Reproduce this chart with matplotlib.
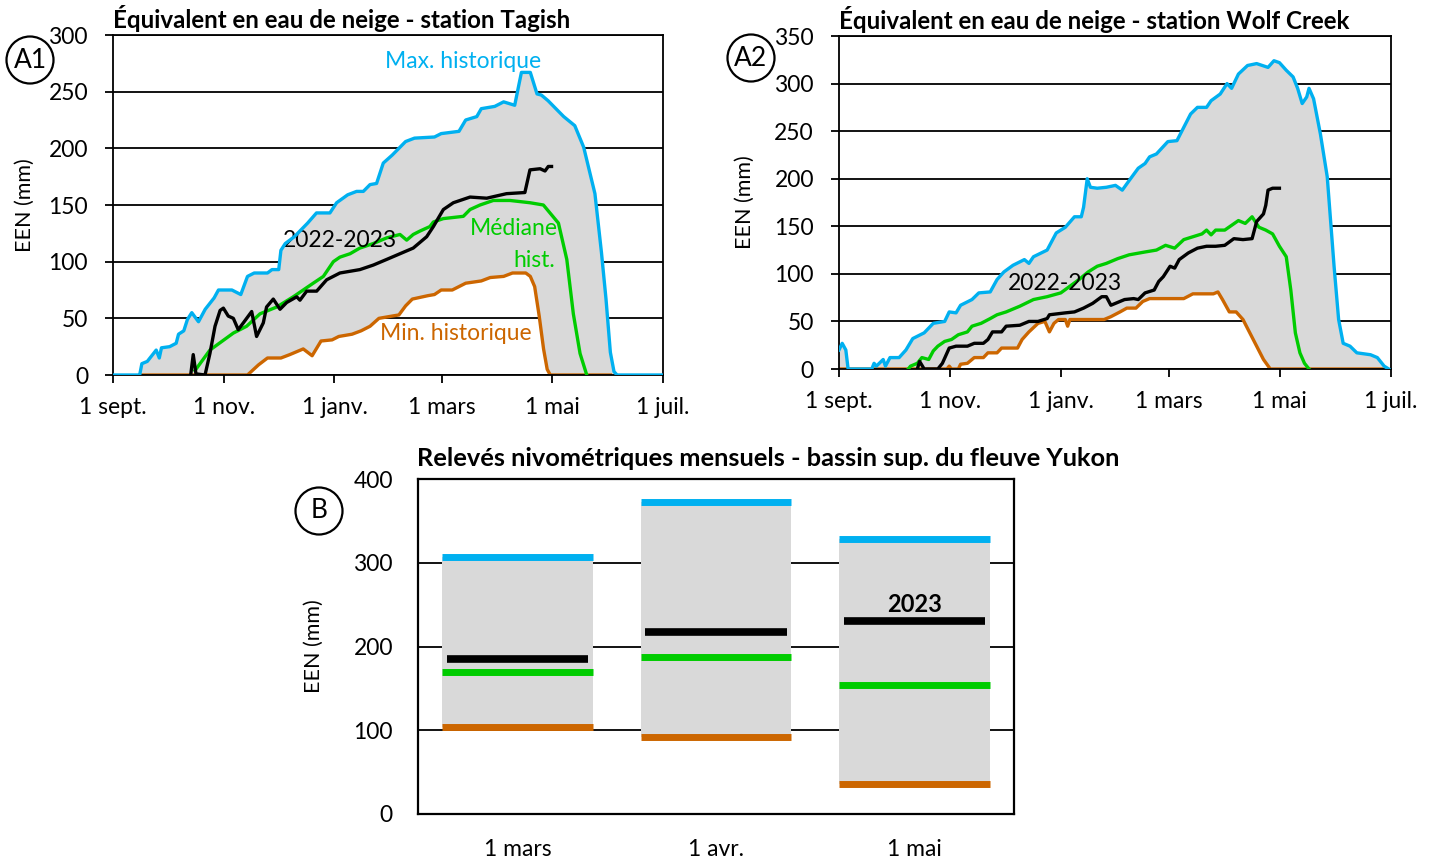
import matplotlib.pyplot as plt
import numpy as np
from matplotlib.patches import Ellipse

plt.rcParams['font.family'] = ['Lato', 'DejaVu Sans']

# days since 1 sept. ; snow water equivalent (mm)
month_ticks = [0, 61, 122, 181, 242, 303]
month_labels = ['1 sept.', '1 nov.', '1 janv.', '1 mars', '1 mai', '1 juil.']

tagish_max = [(0, 0), (14.7, 0), (15.9, 10), (18.9, 12), (23.8, 22), (25.5, 15), (26.7, 24), (31.2, 25),
              (34.8, 28), (36.1, 36), (39.0, 39), (41.0, 49), (43.4, 55), (47.1, 47), (50.8, 58), (55.7, 68),
              (58.1, 75), (65.5, 75), (70.4, 71), (74.1, 87), (77.8, 90), (85.1, 90), (87.6, 93), (91.3, 93),
              (92.5, 110), (94.9, 116), (99.9, 122), (107.2, 134), (112.1, 143), (119.5, 143), (123.2, 152),
              (129.3, 159), (134.2, 162), (137.9, 162), (141.6, 168), (145.2, 169), (148.9, 187), (153.8, 194),
              (161.2, 206), (166.1, 209), (177.1, 210), (180.8, 213), (190.6, 215), (194.3, 225), (200.4, 228),
              (202.9, 235), (210.3, 237), (215.2, 241), (221.3, 238), (225.0, 267), (229.9, 267), (233.6, 248),
              (236.0, 247), (239.7, 242), (244.6, 234), (248.3, 228), (254.4, 220), (259.3, 201), (265.5, 160),
              (269.1, 108), (271.6, 67), (274.0, 20), (276.0, 3), (277.7, 0), (303, 0)]
tagish_min = [(14.7, 0), (74.1, 0), (80.2, 9), (85.1, 15), (92.5, 15), (97.4, 18), (104.8, 23), (109.7, 17),
              (114.6, 30), (120.7, 31), (124.4, 34), (131.7, 36), (136.7, 39), (141.6, 43), (146.5, 50),
              (153.8, 52), (157.5, 53), (161.2, 61), (164.9, 67), (173.5, 70), (177.1, 71), (180.8, 75),
              (186.9, 75), (194.3, 81), (202.9, 83), (207.8, 86), (215.2, 87), (220.1, 90), (227.4, 90),
              (229.9, 87), (232.3, 78), (234.8, 52), (237.2, 23), (239.2, 5), (240.9, 0), (274, 0)]
tagish_med = [(45.2, 4), (53.4, 22), (66.3, 37), (73.6, 43), (81.0, 54), (90.2, 60), (99.3, 69), (110.3, 81),
              (115.9, 87), (121.4, 100), (125.0, 104), (130.6, 107), (136.0, 112), (143.4, 116), (150.8, 121),
              (158.1, 124), (161.8, 119), (165.4, 124), (169.1, 127), (174.6, 131), (176.5, 135), (182.0, 138),
              (193.0, 140), (196.7, 146), (202.2, 150), (209.5, 154), (218.7, 154), (229.7, 152), (237.1, 150),
              (245.4, 134), (250.0, 102), (253.6, 54), (257.3, 19), (261.0, 0)]
tagish_2023 = [(42.8, 0), (44.2, 18), (45.7, 1), (50.7, 0), (53.4, 19), (56.2, 43), (59.0, 57), (60.8, 59),
               (63.5, 52), (66.3, 50), (69.0, 40), (71.8, 46), (76.4, 56), (79.1, 34), (82.8, 46), (84.6, 60),
               (88.3, 67), (92.0, 58), (95.7, 64), (101.2, 69), (103.0, 66), (106.7, 74), (112.2, 74),
               (117.7, 84), (125.0, 90), (136.0, 93), (143.4, 97), (150.8, 102), (158.1, 107), (165.4, 112),
               (172.8, 122), (176.5, 131), (182.0, 146), (187.5, 152), (196.7, 157), (205.9, 156), (216.8, 160),
               (226.9, 161), (229.7, 181), (235.3, 182), (238.0, 180), (239.8, 184), (241.6, 184)]

wolf_max = [(0, 20), (1.75, 27), (3.75, 20), (5, 0), (18, 0), (19.25, 6), (20.5, 3), (24.25, 10), (25.5, 3),
            (28, 12), (33, 12), (36.75, 20), (40.5, 32), (46.75, 38), (51.75, 48), (58, 50), (60.5, 60),
            (64.25, 59), (66.75, 67), (73, 73), (76.75, 80), (83, 81), (86.75, 94), (90.5, 102), (95.5, 109),
            (101.75, 115), (104.25, 111), (106.75, 118), (114.25, 125), (119.25, 143), (124.25, 149),
            (129.25, 160), (133, 160), (134.25, 170), (136.25, 200), (138, 191), (141.75, 190), (146.75, 191),
            (151.75, 193), (155.5, 188), (159.25, 198), (164.25, 211), (168, 216), (170.5, 223), (174.25, 226),
            (180.5, 239), (185.5, 240), (189.25, 254), (193, 268), (196.75, 275), (201.75, 275), (204.25, 282),
            (209.25, 289), (213, 300), (215.5, 295), (219.25, 310), (224.25, 319), (229.25, 321), (235.5, 317),
            (238.75, 324), (241.75, 322), (245.5, 314), (249.25, 307), (251.75, 295), (254.25, 279),
            (256.75, 286), (258, 295), (260.5, 284), (264.25, 247), (268, 202), (271.75, 108), (274.25, 52),
            (276.75, 27), (280.5, 24), (284.25, 17), (291.75, 15), (295.5, 12), (299.25, 3), (301.75, 0)]
wolf_min = [(0, 0), (59.25, 0), (60.5, 3), (61.75, 0), (65.5, 0), (66.75, 5), (70.5, 6), (74.25, 12),
            (79.25, 12), (81.75, 17), (86.75, 17), (89.25, 22), (98, 22), (100.5, 31), (104.25, 39),
            (109.25, 48), (113, 50), (115.5, 39), (118, 48), (120.5, 52), (124.25, 52), (125.5, 45),
            (126.75, 52), (145.5, 52), (149.25, 55), (154.25, 60), (158, 64), (163, 64), (166.75, 71),
            (170.5, 74), (189.25, 74), (194.25, 79), (205.5, 79), (208, 81), (210.5, 73), (214.25, 60),
            (218, 60), (221.75, 52), (225.5, 38), (229.25, 24), (233, 10), (236.75, 0), (298, 0)]
wolf_med = [(38, 0), (39.25, 3), (43, 6), (45.5, 12), (49.25, 10), (51.75, 19), (54.25, 24), (58, 29),
            (61.75, 31), (65.5, 36), (70.5, 39), (73, 45), (78, 48), (83, 53), (86.75, 57), (91.75, 60),
            (99.25, 66), (106.75, 73), (114.25, 76), (121.75, 80), (126.75, 87), (131.75, 94), (136.75, 102),
            (141.75, 108), (146.75, 111), (153, 116), (159.25, 120), (168, 123), (174.25, 125), (179.25, 130),
            (184.25, 127), (189.25, 136), (194.25, 139), (199.25, 142), (201.75, 146), (204.25, 141),
            (206.75, 146), (211.75, 146), (215.5, 151), (219.25, 156), (223, 153), (226.75, 160),
            (230.5, 149), (234.25, 146), (238, 142), (241.75, 129), (245.5, 118), (248, 83), (250.5, 38),
            (253, 17), (255.5, 6), (258, 0)]
wolf_2023 = [(43, 0), (44.25, 8), (45.5, 4), (46.75, 0), (54.25, 0), (56.75, 6), (60.5, 22), (64.25, 24),
             (70.5, 24), (74.25, 27), (79.25, 27), (81.75, 31), (84.25, 39), (89.25, 39), (91.75, 45),
             (99.25, 46), (104.25, 50), (109.25, 50), (114.25, 53), (115.5, 57), (124.25, 59), (129.25, 60),
             (134.25, 64), (139.25, 69), (144.25, 76), (146.75, 76), (149.25, 67), (151.75, 69), (156.75, 73),
             (161.75, 74), (164.25, 73), (168, 80), (173, 83), (175.5, 92), (178, 97), (181.75, 108),
             (184.25, 106), (186.75, 115), (191.75, 122), (196.75, 127), (201.75, 129), (206.75, 129),
             (211.75, 130), (216.75, 137), (221.75, 136), (226.75, 137), (229.25, 155), (233, 163),
             (234.25, 172), (235.5, 188), (238, 190), (241.75, 190)]

# monthly snow surveys, upper Yukon basin
survey_dates = ['1 mars', '1 avr.', '1 mai']
survey_max = [307, 373, 328]
survey_min = [104, 92, 36]
survey_med = [170, 187, 154]
survey_2023 = [185, 217, 231]

BLUE = '#00B0F0'
GREEN = '#00CC00'
ORANGE = '#CC6600'
GREY = '#D9D9D9'
TICK_FS = 16.5
LAB_FS = 16.5

fig = plt.figure(figsize=(14.33, 8.61), dpi=100)
W, H = 1433, 861


def box(l, t, r, b):
    return [l / W, 1 - b / H, (r - l) / W, (b - t) / H]


def snow_panel(ax, smax, smin, smed, s23, ymax, title):
    mx = np.array(smax).T
    mn = np.array(smin).T
    md = np.array(smed).T
    cy = np.array(s23).T
    ax.fill(np.concatenate([mx[0], mn[0][::-1]]), np.concatenate([mx[1], mn[1][::-1]]),
            color=GREY, lw=0, zorder=1)
    ax.plot(mn[0], mn[1], color=ORANGE, lw=2.4, zorder=2)
    ax.plot(md[0], md[1], color=GREEN, lw=2.4, zorder=3)
    ax.plot(cy[0], cy[1], color='black', lw=2.4, zorder=4)
    ax.plot(mx[0], mx[1], color=BLUE, lw=2.4, zorder=5)
    ax.set_xlim(0, 303)
    ax.set_ylim(0, ymax)
    ax.set_yticks(np.arange(0, ymax + 1, 50))
    ax.set_xticks(month_ticks)
    ax.set_xticklabels(month_labels)
    ax.yaxis.grid(True, color='black', lw=1.3, zorder=0)
    ax.set_axisbelow(True)
    ax.tick_params(axis='both', labelsize=TICK_FS, length=6, width=1.3, color='black', direction='out')
    ax.tick_params(axis='x', pad=10)
    ax.tick_params(axis='y', pad=12)
    for s in ax.spines.values():
        s.set_linewidth(1.3)
    ax.set_ylabel('EEN (mm)', fontsize=15.5)
    ax.set_title(title, fontsize=17.4, fontweight='bold', loc='left', pad=5)


ax1 = fig.add_axes(box(113, 35, 663, 375))
snow_panel(ax1, tagish_max, tagish_min, tagish_med, tagish_2023, 300,
           'Équivalent en eau de neige - station Tagish')
ax1.yaxis.set_label_coords(-0.142, 0.5)
ax1.title.set_x(0.008)
ax1.text(193, 277, 'Max. historique', color=BLUE, fontsize=LAB_FS, ha='center', va='center')
ax1.text(125, 119, '2022-2023', color='black', fontsize=LAB_FS, ha='center', va='center')
ax1.text(221, 129, 'Médiane', color=GREEN, fontsize=LAB_FS, ha='center', va='center')
ax1.text(232, 101, 'hist.', color=GREEN, fontsize=LAB_FS, ha='center', va='center')
ax1.text(189, 37, 'Min. historique', color=ORANGE, fontsize=LAB_FS, ha='center', va='center')

ax2 = fig.add_axes(box(839, 36, 1391, 369))
snow_panel(ax2, wolf_max, wolf_min, wolf_med, wolf_2023, 350,
           'Équivalent en eau de neige - station Wolf Creek')
ax2.yaxis.set_label_coords(-0.152, 0.5)
ax2.title.set_x(-0.002)
ax2.text(124, 90, '2022-2023', color='black', fontsize=LAB_FS, ha='center', va='center', zorder=6)

ax3 = fig.add_axes(box(418, 479, 1014, 814))
x = np.arange(len(survey_dates))
bw = 0.76
ax3.bar(x, np.array(survey_max) - np.array(survey_min), bottom=survey_min, width=bw,
        color=GREY, zorder=1)
ax3.hlines(survey_max, x - bw / 2, x + bw / 2, color=BLUE, lw=5, zorder=2)
ax3.hlines(survey_min, x - bw / 2, x + bw / 2, color=ORANGE, lw=5, zorder=2)
ax3.hlines(survey_med, x - bw / 2, x + bw / 2, color=GREEN, lw=5, zorder=2)
ax3.hlines(survey_2023, x - 0.355, x + 0.355, color='black', lw=5.5, zorder=3)
ax3.text(2, 250, '2023', fontsize=17, fontweight='bold', ha='center', va='center')
ax3.set_xlim(-0.5, 2.5)
ax3.set_ylim(0, 400)
ax3.set_yticks([0, 100, 200, 300, 400])
ax3.set_xticks(x)
ax3.set_xticklabels(survey_dates)
ax3.yaxis.grid(True, color='black', lw=1.3, zorder=0)
ax3.set_axisbelow(True)
ax3.tick_params(axis='both', labelsize=TICK_FS, length=0)
ax3.tick_params(axis='x', pad=18)
ax3.tick_params(axis='y', pad=18)
for s in ax3.spines.values():
    s.set_linewidth(1.6)
ax3.set_ylabel('EEN (mm)', fontsize=15.5)
ax3.yaxis.set_label_coords(-0.158, 0.5)
ax3.set_title('Relevés nivométriques mensuels - bassin sup. du fleuve Yukon', fontsize=18.3,
              fontweight='bold', loc='left', pad=9, x=-0.002)

# panel markers
for lab, cx, cy in [('A1', 30, 60), ('A2', 751, 58), ('B', 319, 511)]:
    fig.patches.append(Ellipse((cx / W, 1 - cy / H), 47 / W, 47 / H, transform=fig.transFigure,
                               fill=False, ec='black', lw=1.6))
    fig.text(cx / W, 1 - cy / H, lab, fontsize=19, ha='center', va='center')

fig.savefig('out.png', dpi=100)
